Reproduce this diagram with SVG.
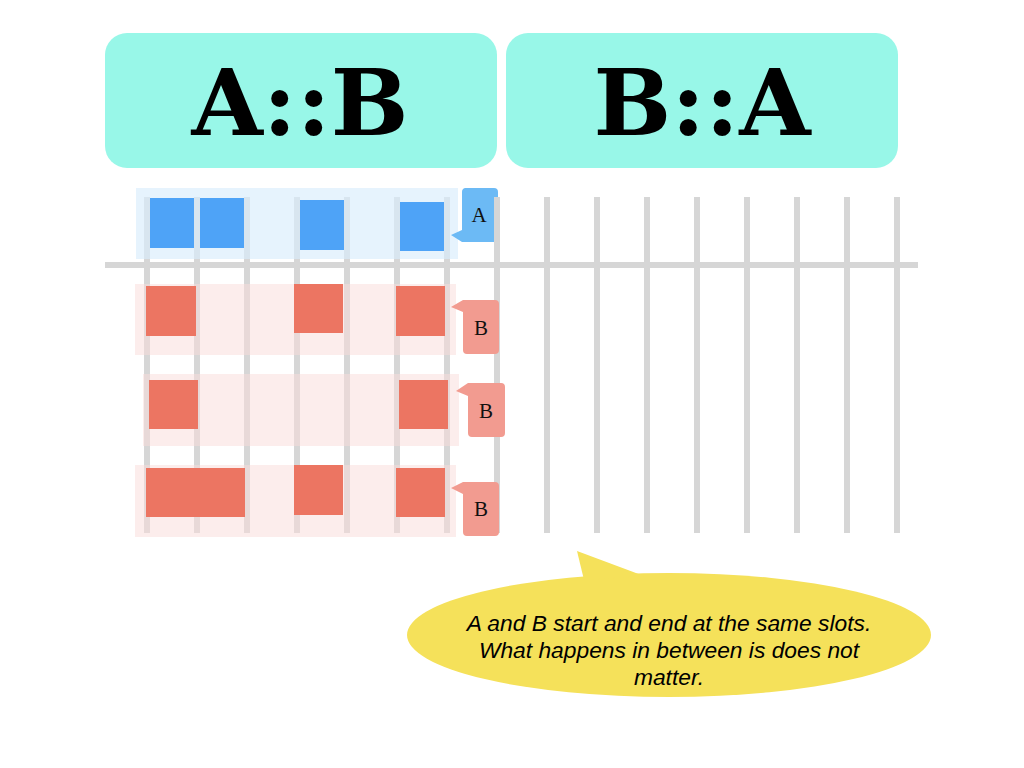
<svg xmlns="http://www.w3.org/2000/svg" width="1024" height="768" viewBox="0 0 1024 768">
<style>
.hdr{fill:#98F7E8}
.htxt{font-family:"DejaVu Serif","Liberation Serif",serif;font-weight:bold;font-size:92px;fill:#000;text-anchor:middle}
.grid{stroke:#D6D6D6;stroke-width:6;fill:none}
.bgA{fill:#D9ECFC;fill-opacity:0.65}
.bgB{fill:#FADCD9;fill-opacity:0.5}
.sqA{fill:#4EA3F7}
.sqB{fill:#EC7562}
.lblA{fill:#6CBAF5}
.lblB{fill:#F29B90}
.ltxt{font-family:"Liberation Serif","DejaVu Serif",serif;font-size:21px;fill:#111;text-anchor:middle}
.note{font-family:"Liberation Sans",Arial,sans-serif;font-style:italic;font-size:22.8px;fill:#000;text-anchor:middle}
</style>
<g id="header-AB"><rect class="hdr" x="105" y="33" width="392" height="135" rx="22"/><text class="htxt" x="300" y="135">A::B</text></g>
<g id="header-BA"><rect class="hdr" x="506" y="33" width="392" height="135" rx="22"/><text class="htxt" x="702" y="135">B::A</text></g>
<g id="grid">
<path class="grid" d="M105,265 H918"/>
<path class="grid" d="M147,197 V533 M197,197 V533 M247,197 V533 M297,197 V533 M347,197 V533 M397,197 V533 M447,197 V533 M497,197 V533 M547,197 V533 M597,197 V533 M647,197 V533 M697,197 V533 M747,197 V533 M797,197 V533 M847,197 V533 M897,197 V533"/>
</g>
<g id="row-A"><rect class="bgA" x="136" y="188" width="322" height="71"/>
<rect class="sqA" x="150" y="198" width="44" height="50"/><rect class="sqA" x="200" y="198" width="44" height="50"/><rect class="sqA" x="300" y="200" width="44" height="50"/><rect class="sqA" x="400" y="202" width="44" height="49"/></g>
<g id="label-A"><path class="lblA" d="M465,188 H494 a4,4 0 0 1 4,4 V238 a4,4 0 0 1 -4,4 H462 V242 L451,235 L462,230 V192 a4,4 0 0 1 3,-4 Z"/><path class="grid" d="M497,197 V243"/><text class="ltxt" x="479" y="222">A</text></g>
<g id="row-B1"><rect class="bgB" x="135" y="284" width="321" height="71"/>
<rect class="sqB" x="146" y="286" width="50" height="50"/><rect class="sqB" x="294" y="284" width="49" height="49"/><rect class="sqB" x="396" y="286" width="49" height="50"/></g>
<g id="row-B2"><rect class="bgB" x="143" y="374" width="316" height="72"/>
<rect class="sqB" x="149" y="380" width="49" height="49"/><rect class="sqB" x="399" y="380" width="49" height="49"/></g>
<g id="row-B3"><rect class="bgB" x="135" y="465" width="321" height="72"/>
<rect class="sqB" x="146" y="468" width="99" height="49"/><rect class="sqB" x="294" y="465" width="49" height="50"/><rect class="sqB" x="396" y="468" width="49" height="49"/></g>
<g id="label-B1"><path class="lblB" d="M463,300 H495 a4,4 0 0 1 4,4 V350 a4,4 0 0 1 -4,4 H467 a4,4 0 0 1 -4,-4 V312 L451,307 Z"/><text class="ltxt" x="481" y="335">B</text></g>
<g id="label-B2"><path class="lblB" d="M468,383 H501 a4,4 0 0 1 4,4 V433 a4,4 0 0 1 -4,4 H472 a4,4 0 0 1 -4,-4 V396 L456,391 Z"/><text class="ltxt" x="486" y="418">B</text></g>
<g id="label-B3"><path class="lblB" d="M463,482 H495 a4,4 0 0 1 4,4 V532 a4,4 0 0 1 -4,4 H467 a4,4 0 0 1 -4,-4 V494 L451,488 Z"/><text class="ltxt" x="481" y="516">B</text></g>
<g id="note">
<ellipse cx="669" cy="635" rx="262" ry="62" fill="#F5E15A"/>
<path fill="#F5E15A" d="M584,580 L577,551 L644,576 Z"/>
<text class="note" x="669" y="631">A and B start and end at the same slots.</text>
<text class="note" x="669" y="658">What happens in between is does not</text>
<text class="note" x="669" y="685">matter.</text>
</g>
</svg>
